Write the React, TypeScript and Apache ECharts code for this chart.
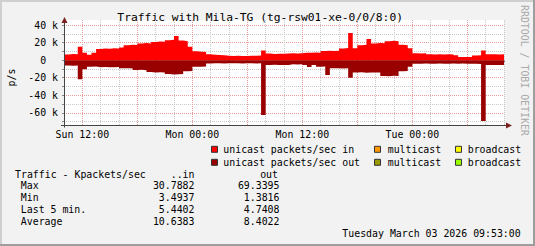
import React, { useEffect, useRef } from "react";
import * as echarts from "echarts";

// ---- data ----
const startHour = 10; // hours since Sun 00:00 at the left edge
const stepHours = 0.5;
const inKpps = [
  6.5, 6.9, 6.6, 15.4, 8.5, 6.2, 8.3, 12.7, 13.4, 13.0,
  13.6, 13.2, 14.5, 17.0, 17.5, 17.3, 19.0, 19.4, 19.0, 20.8,
  21.3, 21.0, 22.6, 23.2, 27.5, 22.3, 21.5, 15.4, 10.2, 9.6,
  9.4, 6.8, 6.2, 6.0, 5.6, 4.9, 4.7, 4.9, 4.6, 4.8,
  5.1, 4.9, 5.2, 11.0, 7.5, 7.0, 7.4, 7.2, 7.6, 7.8,
  7.6, 8.0, 8.5, 8.3, 8.7, 8.5, 10.3, 10.6, 10.4, 10.8,
  13.3, 13.7, 30.79, 13.6, 17.0, 17.5, 24.0, 19.0, 19.4, 19.1,
  21.5, 22.0, 21.6, 17.5, 17.0, 13.5, 8.0, 7.7, 7.9, 6.8,
  6.5, 6.7, 6.4, 6.6, 6.5, 5.5, 3.5, 3.49, 3.6, 5.4,
  5.6, 11.0, 6.6, 6.8, 6.4, 6.7, 5.44,
];
const outKpps = [
  6.0, 6.4, 6.1, 21.8, 10.4, 7.4, 7.3, 8.0, 7.8, 8.2,
  8.0, 7.9, 9.3, 9.1, 9.5, 11.2, 11.0, 11.4, 13.6, 14.0,
  13.8, 14.1, 15.8, 16.2, 16.0, 15.7, 12.5, 12.3, 7.4, 7.6,
  7.2, 3.8, 3.6, 3.5, 3.7, 3.6, 3.4, 3.6, 3.8, 3.5,
  3.6, 3.7, 3.6, 62.4, 5.5, 5.3, 5.6, 5.4, 5.5, 4.7,
  4.8, 4.6, 5.5, 7.8, 5.4, 7.4, 7.3, 16.8, 9.3, 9.1,
  9.4, 9.2, 19.9, 14.0, 13.8, 14.2, 14.0, 13.9, 14.1, 18.0,
  18.3, 17.8, 18.1, 12.5, 12.3, 7.4, 4.1, 4.0, 3.9, 4.1,
  4.0, 3.8, 4.0, 4.1, 3.9, 4.0, 3.9, 4.1, 4.0, 4.2,
  4.4, 69.34, 5.5, 5.6, 5.4, 5.5, 4.74,
];
const xTickHours = [12, 24, 36, 48];
const xTickLabels = ["Sun 12:00", "Mon 00:00", "Mon 12:00", "Tue 00:00"];
const yTickValues = [40000, 20000, 0, -20000, -40000, -60000];
const yTickLabels = ["40 k", "20 k", "0\u00a0\u00a0", "-20 k", "-40 k", "-60 k"];
const legendRows = [
  ["unicast packets/sec in", "multicast", "broadcast"],
  ["unicast packets/sec out", "multicast", "broadcast"],
];
const statLabels = ["Max", "Min", "Last 5 min.", "Average"];
const statIn = [30.7882, 3.4937, 5.4402, 10.6383];
const statOut = [69.3395, 1.3816, 4.7408, 8.4022];
const titleText = "Traffic with Mila-TG (tg-rsw01-xe-0/0/8:0)";
const footerText = "Tuesday March 03 2026 09:53:00";

// ---- styles ----
const MONO = '"DejaVu Sans Mono", "Liberation Mono", monospace';
const FS = 9.9;
const legendColors = [
  ["#FF0000", "#FF9900", "#FFFF00"],
  ["#990000", "#999900", "#99FF00"],
];
const MINOR = "#c8c8c8";
const MAJOR = "#eb9a9a";

export default function App() {
  const ref = useRef<HTMLDivElement>(null);
  useEffect(() => {
    document.body.style.margin = "0";
    const chart = echarts.init(ref.current!, undefined, { renderer: "svg" });
    const inData = inKpps.map((v, i) => [startHour + i * stepHours, v * 1000]);
    const outData = outKpps.map((v, i) => [startHour + i * stepHours, -v * 1000]);

    const graphics: any[] = [];
    // frame
    graphics.push({ type: "rect", shape: { x: 0, y: 0, width: 535, height: 2 }, style: { fill: "#CFCFCF" }, silent: true });
    graphics.push({ type: "rect", shape: { x: 0, y: 0, width: 2, height: 246 }, style: { fill: "#CFCFCF" }, silent: true });
    graphics.push({ type: "rect", shape: { x: 0, y: 244, width: 535, height: 2 }, style: { fill: "#9E9E9E" }, silent: true });
    graphics.push({ type: "rect", shape: { x: 533, y: 0, width: 2, height: 246 }, style: { fill: "#9E9E9E" }, silent: true });
    // axes lines & arrows
    graphics.push({ type: "line", shape: { x1: 64.5, y1: 19, x2: 64.5, y2: 127.5 }, style: { stroke: "#444", lineWidth: 1 }, z: 10, silent: true });
    graphics.push({ type: "line", shape: { x1: 61, y1: 125.5, x2: 508, y2: 125.5 }, style: { stroke: "#444", lineWidth: 1 }, z: 10, silent: true });
    graphics.push({ type: "polygon", shape: { points: [[61.5, 23], [67.5, 23], [64.5, 17]] }, style: { fill: "#801F1F" }, z: 11, silent: true });
    graphics.push({ type: "polygon", shape: { points: [[506, 122.5], [506, 128.5], [512, 125.5]] }, style: { fill: "#801F1F" }, z: 11, silent: true });
    // title
    graphics.push({ type: "text", x: 260.2, y: 17.4, style: { text: titleText, font: `11.3px ${MONO}`, fill: "#000", textAlign: "center", textVerticalAlign: "middle" }, silent: true });
    // y axis name
    graphics.push({ type: "text", x: 11.7, y: 77.5, rotation: Math.PI / 2, style: { text: "p/s", font: `${FS}px ${MONO}`, fill: "#000", textAlign: "center", textVerticalAlign: "middle" }, silent: true });
    // watermark
    graphics.push({ type: "text", x: 524.3, y: 5, rotation: -Math.PI / 2, style: { text: "RRDTOOL / TOBI OETIKER", font: `${FS}px ${MONO}`, fill: "#aaaaaa", textAlign: "left", textVerticalAlign: "middle" }, silent: true });
    // legend
    const boxX = [211.5, 374.5, 455.5];
    const txtX = [223.3, 387.7, 467.7];
    const rowY = [149.3, 162.3];
    legendRows.forEach((row, r) => {
      row.forEach((name, c) => {
        graphics.push({ type: "rect", shape: { x: boxX[c], y: rowY[r] - 3, width: 6, height: 6 }, style: { fill: legendColors[r][c], stroke: "#333", lineWidth: 1 }, silent: true });
        graphics.push({ type: "text", x: txtX[c], y: rowY[r], style: { text: name, font: `${FS}px ${MONO}`, fill: "#000", textAlign: "left", textVerticalAlign: "middle" }, silent: true });
      });
    });
    // stats table
    const headY = 174.3;
    graphics.push({ type: "text", x: 15, y: headY, style: { text: "Traffic - Kpackets/sec", font: `${FS}px ${MONO}`, fill: "#000", textAlign: "left", textVerticalAlign: "middle" }, silent: true });
    graphics.push({ type: "text", x: 194.5, y: headY, style: { text: "..in", font: `${FS}px ${MONO}`, fill: "#000", textAlign: "right", textVerticalAlign: "middle" }, silent: true });
    graphics.push({ type: "text", x: 278, y: headY, style: { text: "out", font: `${FS}px ${MONO}`, fill: "#000", textAlign: "right", textVerticalAlign: "middle" }, silent: true });
    const statY = [185.7, 197.7, 209.5, 221.7];
    statLabels.forEach((lab, i) => {
      graphics.push({ type: "text", x: 20.8, y: statY[i], style: { text: lab, font: `${FS}px ${MONO}`, fill: "#000", textAlign: "left", textVerticalAlign: "middle" }, silent: true });
      graphics.push({ type: "text", x: 194.5, y: statY[i], style: { text: statIn[i].toFixed(4), font: `${FS}px ${MONO}`, fill: "#000", textAlign: "right", textVerticalAlign: "middle" }, silent: true });
      graphics.push({ type: "text", x: 279.5, y: statY[i], style: { text: statOut[i].toFixed(4), font: `${FS}px ${MONO}`, fill: "#000", textAlign: "right", textVerticalAlign: "middle" }, silent: true });
    });
    // footer
    graphics.push({ type: "text", x: 520.7, y: 233.3, style: { text: footerText, font: `${FS}px ${MONO}`, fill: "#000", textAlign: "right", textVerticalAlign: "middle" }, silent: true });

    chart.setOption({
      animation: false,
      backgroundColor: "#F2F2F2",
      grid: [
        { left: 64, top: 20, width: 440, height: 105, show: true, backgroundColor: "#FFFFFF", borderWidth: 0, containLabel: false, outerBoundsMode: "none" },
        { left: 64, top: 25, width: 440, height: 96.69, show: false, containLabel: false, outerBoundsMode: "none" },
      ],
      xAxis: [
        {
          gridIndex: 0, type: "value", min: 10, max: 58, interval: 2,
          axisLine: { show: false },
          axisTick: { show: true, length: 2, lineStyle: { color: "#b08080" } },
          axisLabel: {
            show: true, margin: 4, fontFamily: MONO, fontSize: FS, color: "#000", hideOverlap: false,
            showMinLabel: true, showMaxLabel: true,
            formatter: (v: number) => {
              const k = xTickHours.indexOf(Math.round(v * 1000) / 1000);
              return k >= 0 ? xTickLabels[k] : "";
            },
          },
          splitLine: { show: true, lineStyle: { color: [MINOR, MAJOR, MINOR], type: [1, 1], width: 1 } },
        },
        { gridIndex: 1, type: "value", min: 10, max: 58, show: false },
      ],
      yAxis: [
        { gridIndex: 0, type: "value", min: -73760, max: 45690, show: false, splitLine: { show: false } },
        {
          gridIndex: 1, type: "value", min: -70000, max: 40000, interval: 10000,
          axisLine: { show: false },
          axisTick: { show: true, length: 2, lineStyle: { color: "#888" } },
          axisLabel: {
            show: true, margin: 6, fontFamily: MONO, fontSize: FS, color: "#000", align: "right",
            showMinLabel: true, showMaxLabel: true,
            formatter: (v: number) => {
              const k = yTickValues.indexOf(Math.round(v));
              return k >= 0 ? yTickLabels[k] : "";
            },
          },
          splitLine: { show: true, lineStyle: { color: [MINOR, MAJOR], type: [1, 1], width: 1 } },
        },
      ],
      series: [
        {
          name: "unicast packets/sec in", type: "line", xAxisIndex: 0, yAxisIndex: 0, step: "end",
          symbol: "none", showSymbol: false, data: inData, silent: true,
          lineStyle: { width: 0, color: "#FF0000" }, areaStyle: { color: "#FF0000", opacity: 1 },
        },
        {
          name: "unicast packets/sec out", type: "line", xAxisIndex: 0, yAxisIndex: 0, step: "end",
          symbol: "none", showSymbol: false, data: outData, silent: true,
          lineStyle: { width: 0, color: "#990000" }, areaStyle: { color: "#990000", opacity: 1 },
        },
      ],
      graphic: graphics,
    });
    return () => chart.dispose();
  }, []);
  return <div ref={ref} style={{ position: "absolute", left: 0, top: 0, width: 535, height: 246 }} />;
}
